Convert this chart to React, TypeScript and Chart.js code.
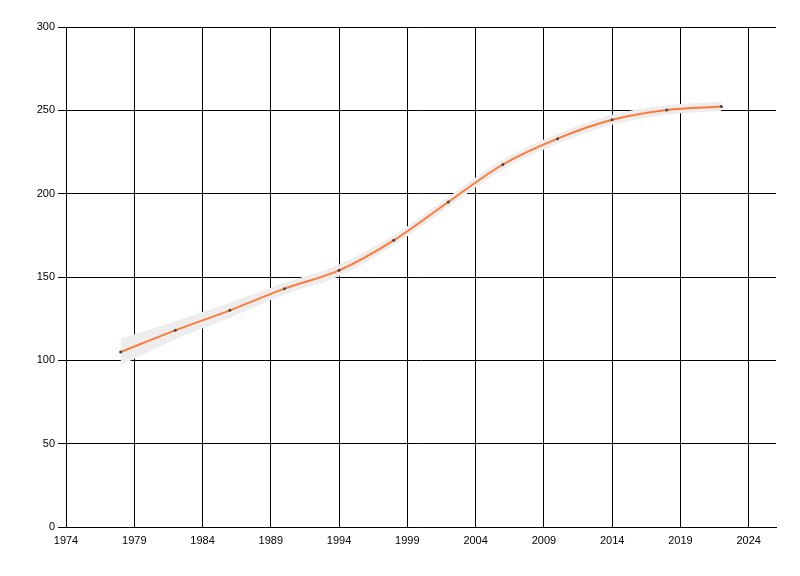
import React, { useEffect, useRef } from "react";
import { Chart, registerables } from "chart.js";

Chart.register(...registerables);

const years = [1978, 1982, 1986, 1990, 1994, 1998, 2002, 2006, 2010, 2014, 2018, 2022];
const values = [105, 118, 130, 143, 154, 172, 195, 217.5, 233, 244.3, 250.2, 252.3];
const upperBand = [113, 123.5, 134.5, 146.5, 157.5, 175, 198, 220.5, 236, 247.3, 253, 255.2];
const lowerBand = [97, 112.5, 125.5, 139.5, 150.5, 169, 192, 214.5, 230, 241.3, 247.4, 249.6];
const xTicks = [1974, 1979, 1984, 1989, 1994, 1999, 2004, 2009, 2014, 2019, 2024];
const yTicks = [0, 50, 100, 150, 200, 250, 300];

export default function App() {
  const ref = useRef<HTMLCanvasElement | null>(null);

  useEffect(() => {
    if (!ref.current) return;
    const font = { family: "'Liberation Sans', Arial, sans-serif", size: 11 };
    const pts = (arr: number[]) => years.map((x, i) => ({ x, y: arr[i] }));
    const chart = new Chart(ref.current, {
      type: "line",
      data: {
        datasets: [
          {
            data: pts(values),
            borderColor: "#FF7A38",
            borderWidth: 2,
            pointRadius: 1.5,
            pointBackgroundColor: "#444444",
            pointBorderWidth: 0,
            cubicInterpolationMode: "monotone",
            fill: false,
            order: 0,
          },
          {
            data: pts(upperBand),
            borderWidth: 0,
            borderColor: "rgba(0,0,0,0)",
            pointRadius: 0,
            backgroundColor: "#EDEDED",
            cubicInterpolationMode: "monotone",
            fill: "+1",
            order: 2,
          },
          {
            data: pts(lowerBand),
            borderWidth: 0,
            borderColor: "rgba(0,0,0,0)",
            pointRadius: 0,
            cubicInterpolationMode: "monotone",
            fill: false,
            order: 2,
          },
        ],
      },
      options: {
        animation: false,
        responsive: false,
        maintainAspectRatio: false,
        layout: { padding: { top: 27, right: 24, left: 0, bottom: 0 } },
        plugins: { legend: { display: false }, tooltip: { enabled: false } },
        scales: {
          x: {
            type: "linear",
            min: 1974,
            max: 2026,
            afterBuildTicks: (s: any) => {
              s.ticks = xTicks.map((v) => ({ value: v }));
            },
            afterFit: (s: any) => {
              s.height = 49;
            },
            grid: { color: "#000000", lineWidth: 1, tickLength: 0, drawTicks: false },
            border: { color: "#000000", width: 1 },
            ticks: {
              color: "#000000",
              font,
              padding: 7,
              maxRotation: 0,
              autoSkip: false,
              callback: (v: any) => String(v),
            },
          },
          y: {
            type: "linear",
            min: 0,
            max: 300,
            afterBuildTicks: (s: any) => {
              s.ticks = yTicks.map((v) => ({ value: v }));
            },
            afterFit: (s: any) => {
              s.width = 66;
            },
            grid: { color: "#000000", lineWidth: 1, tickLength: 8 },
            border: { color: "#000000", width: 1 },
            ticks: { color: "#000000", font, padding: 3, callback: (v: any) => String(v) },
          },
        },
      },
    } as any);
    return () => chart.destroy();
  }, []);

  return (
    <div style={{ position: "fixed", left: 0, top: 0, width: 800, height: 576, background: "#ffffff" }}>
      <canvas ref={ref} width={800} height={576} style={{ width: 800, height: 576 }} />
    </div>
  );
}
